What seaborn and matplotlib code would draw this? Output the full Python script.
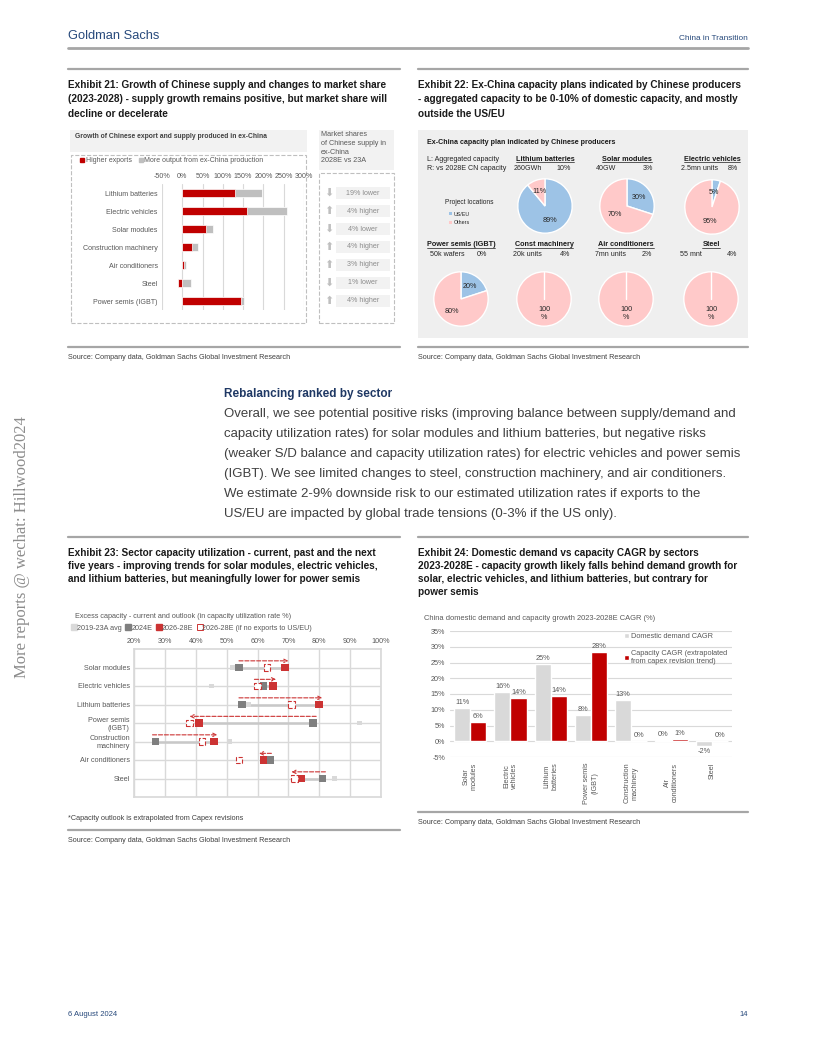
import numpy as np
import pandas as pd
import seaborn as sns
import matplotlib.pyplot as plt
from matplotlib import font_manager as fm
from matplotlib.lines import Line2D
from matplotlib.patches import Rectangle, Patch

#%% data
# Exhibit 21 - growth of Chinese supply (%), stacked
sectors21 = ['Lithium batteries', 'Electric vehicles', 'Solar modules', 'Construction machinery',
             'Air conditioners', 'Steel', 'Power semis (IGBT)']
higher_exports = [130, 160, 59, 24, 4, -10, 144]
ex_china_output = [67, 99, 16, 14, 6, 22, 9]
share_change = ['19% lower', '4% higher', '4% lower', '4% higher', '3% higher', '1% lower', '4% higher']
growth_ticks = [-50, 0, 50, 100, 150, 200, 250, 300]

# Exhibit 22 - ex-China capacity plans
pie_names = ['Lithium batteries', 'Solar modules', 'Electric vehicles', 'Power semis (IGBT)',
             'Const machinery', 'Air conditioners', 'Steel']
pie_capacity = ['260GWh', '40GW', '2.5mn units', '50k wafers', '20k units', '7mn units', '55 mnt']
pie_vs_cn = ['10%', '3%', '8%', '0%', '4%', '2%', '4%']
us_eu_share = [89, 30, 5, 20, 0, 0, 0]

# Exhibit 23 - capacity utilization (%)
sectors23 = ['Solar modules', 'Electric vehicles', 'Lithium batteries', 'Power semis\n(IGBT)',
             'Construction\nmachinery', 'Air conditioners', 'Steel']
util_avg = [52, 45, 57, 93, 51, 63, 85]
util_2024 = [54, 62, 55, 78, 27, 64, 81]
util_2628 = [69, 65, 80, 41, 46, 62, 74]
util_noexp = [63, 60, 71, 38, 42, 54, 72]
arrow_from = [54, 59, 54, 79, 26, 64.5, 82]
arrow_to = [70, 66, 81, 38, 47, 60.5, 71]
util_ticks = [20, 30, 40, 50, 60, 70, 80, 90, 100]

# Exhibit 24 - CAGR 2023-2028E (%)
sectors24 = ['Solar\nmodules', 'Electric\nvehicles', 'Lithium\nbatteries', 'Power semis\n(IGBT)',
             'Construction\nmachinery', 'Air\nconditioners', 'Steel']
demand_cagr = [10.6, 15.7, 24.6, 8.3, 13.1, 0.3, -1.6]
capacity_cagr = [6.0, 13.7, 14.3, 28.4, 0.0, 0.7, 0.0]
cagr_ticks = [-5, 0, 5, 10, 15, 20, 25, 30, 35]

#%% style
sns.set_theme(style='white')
plt.rcParams['font.family'] = ['Liberation Sans', 'DejaVu Sans']


def has_font(name):
    try:
        fm.findfont(fm.FontProperties(family=name), fallback_to_default=False)
        return True
    except Exception:
        return False


if has_font('Liberation Sans Narrow'):
    NARROW, NS = ['Liberation Sans Narrow', 'DejaVu Sans'], 1.0
else:
    NARROW, NS = ['Liberation Sans', 'DejaVu Sans'], 0.88

RED = '#c00000'
RED23 = '#cc3333'
GREY = '#bfbfbf'
LIGHT = '#d9d9d9'
BLUE = '#9dc3e6'
PINK = '#ffc9c9'
NAVY = '#284a7c'
TXT = '#595959'
RULE = '#a6a6a6'

W, H = 816, 1056
fig = plt.figure(figsize=(W / 100, H / 100), dpi=100)


def fxy(x, y):
    return x / W, 1 - y / H


def box(x0, y0, x1, y1):
    return [x0 / W, 1 - y1 / H, (x1 - x0) / W, (y1 - y0) / H]


def put(x, y, s, **kw):
    kw.setdefault('va', 'center')
    return fig.text(x / W, 1 - y / H, s, **kw)


def hline(x0, x1, y, color=RULE, lw=1.6):
    fig.add_artist(Line2D([x0 / W, x1 / W], [1 - y / H] * 2, color=color, lw=lw))


def rect(x0, y0, x1, y1, **kw):
    kw.setdefault('zorder', -1)
    fig.add_artist(Rectangle((x0 / W, 1 - y1 / H), (x1 - x0) / W, (y1 - y0) / H,
                             transform=fig.transFigure, **kw))


#%% page furniture
put(68, 36, 'Goldman Sachs', family=NARROW, fontsize=10.5 * NS, color=NAVY)
put(748, 38, 'China in Transition', family=NARROW, fontsize=6.8 * NS, color=NAVY, ha='right')
hline(68, 748, 48, lw=2)
put(68, 1015, '6 August 2024', family=NARROW, fontsize=6.2 * NS, color=NAVY)
put(748, 1015, '14', family=NARROW, fontsize=6.2 * NS, color=NAVY, ha='right')
put(22, 547, 'More reports @ wechat: Hillwood2024', family=['Liberation Serif', 'DejaVu Serif'],
    fontsize=12, color='#8c8c8c', rotation=90, ha='center')

title_kw = dict(family=NARROW, fontsize=8.2 * NS, fontweight='bold', color='#1a1a1a')
src_kw = dict(family=NARROW, fontsize=5.9 * NS, color='#404040')
SRC = 'Source: Company data, Goldman Sachs Global Investment Research'

hline(68, 400, 69)
hline(418, 748, 69)
for yy, line in zip([85, 99, 114], ['Exhibit 21: Growth of Chinese supply and changes to market share',
                                    '(2023-2028) - supply growth remains positive, but market share will',
                                    'decline or decelerate']):
    put(68, yy, line, **title_kw)
for yy, line in zip([85, 99, 114], ['Exhibit 22: Ex-China capacity plans indicated by Chinese producers',
                                    '- aggregated capacity to be 0-10% of domestic capacity, and mostly',
                                    'outside the US/EU']):
    put(418, yy, line, **title_kw)
hline(68, 400, 347)
hline(418, 748, 347)
put(68, 357, SRC, **src_kw)
put(418, 357, SRC, **src_kw)

put(224, 394, 'Rebalancing ranked by sector', family=NARROW, fontsize=9.6 * NS,
    fontweight='bold', color='#1f3864')
para = ['Overall, we see potential positive risks (improving balance between supply/demand and',
        'capacity utilization rates) for solar modules and lithium batteries, but negative risks',
        '(weaker S/D balance and capacity utilization rates) for electric vehicles and power semis',
        '(IGBT). We see limited changes to steel, construction machinery, and air conditioners.',
        'We estimate 2-9% downside risk to our estimated utilization rates if exports to the',
        'US/EU are impacted by global trade tensions (0-3% if the US only).']
for k, line in enumerate(para):
    put(224, 414 + 20 * k, line, fontsize=9.5, color='#404040')

hline(68, 400, 537)
hline(418, 748, 537)
for yy, line in zip([553, 566, 579], ['Exhibit 23: Sector capacity utilization - current, past and the next',
                                      'five years - improving trends for solar modules, electric vehicles,',
                                      'and lithium batteries, but meaningfully lower for power semis']):
    put(68, yy, line, **title_kw)
for yy, line in zip([553, 566, 579, 592], ['Exhibit 24: Domestic demand vs capacity CAGR by sectors',
                                           '2023-2028E - capacity growth likely falls behind demand growth for',
                                           'solar, electric vehicles, and lithium batteries, but contrary for',
                                           'power semis']):
    put(418, yy, line, **title_kw)
put(68, 818, '*Capacity outlook is extrapolated from Capex revisions', **src_kw)
hline(68, 400, 830)
put(68, 841, SRC, **src_kw)
hline(418, 748, 812)
put(418, 823, SRC, **src_kw)

#%% Exhibit 21
rect(70, 130, 307, 152, facecolor='#f2f2f2', edgecolor='none')
put(75, 137, 'Growth of Chinese export and supply produced in ex-China', fontsize=4.9,
    fontweight='bold', color='#404040')
rect(319, 130, 394, 170, facecolor='#f2f2f2', edgecolor='none')
for yy, line in zip([135, 143.5, 152, 160.5], ['Market shares', 'of Chinese supply in', 'ex-China',
                                                '2028E vs 23A']):
    put(321, yy, line, fontsize=5.2, color=TXT)
rect(71, 155, 306, 323, fill=False, edgecolor=GREY, linestyle='--', lw=0.8)
rect(319, 173, 394, 323, fill=False, edgecolor=GREY, linestyle='--', lw=0.8)

df21 = pd.DataFrame({'sector': sectors21, 'exports': higher_exports, 'exchina': ex_china_output})
df21['total'] = df21['exports'].clip(lower=0) + df21['exchina']
ax21 = fig.add_axes(box(162, 184, 304, 310))
sns.barplot(data=df21, y='sector', x='total', color=GREY, saturation=1, width=0.45,
            edgecolor='white', linewidth=0.5, ax=ax21)
sns.barplot(data=df21, y='sector', x='exports', color=RED, saturation=1, width=0.45,
            edgecolor='white', linewidth=0.5, ax=ax21)
ax21.set_xlim(-50, 300)
ax21.set_xticks(growth_ticks)
ax21.set_xticklabels([f'{v}%' for v in growth_ticks])
ax21.xaxis.tick_top()
ax21.grid(axis='x', color=LIGHT, lw=0.8)
ax21.set_axisbelow(True)
ax21.set_xlabel('')
ax21.set_ylabel('')
sns.despine(ax=ax21, left=True, bottom=True)
ax21.tick_params(length=0, labelsize=5.1, labelcolor=TXT, pad=3)
fig.legend(handles=[Patch(color=RED, label='Higher exports'),
                    Patch(color=GREY, label='More output from ex-China production')],
           loc='center left', bbox_to_anchor=fxy(80, 161), ncol=2, fontsize=5, frameon=False,
           handlelength=0.6, handleheight=0.6, handletextpad=0.2, columnspacing=1.0,
           borderpad=0, borderaxespad=0, labelcolor=TXT)

ax21b = fig.add_axes(box(322, 184, 392, 310))
ax21b.set_xlim(0, 1)
ax21b.set_ylim(ax21.get_ylim())
ax21b.axis('off')
for i, lab in enumerate(share_change):
    ax21b.add_patch(Rectangle((0.2, i - 0.36), 0.77, 0.72, facecolor='#f2f2f2', edgecolor='none'))
    ax21b.text(0.585, i, lab, ha='center', va='center', fontsize=5.1, color='#8c8c8c')
    ax21b.text(0.1, i, '\u2b07' if 'lower' in lab else '\u2b06', ha='center', va='center',
               fontsize=8, color=GREY, family='DejaVu Sans')

#%% Exhibit 22
rect(418, 130, 748, 338, facecolor='#efefef', edgecolor='none')
put(427, 143, 'Ex-China capacity plan indicated by Chinese producers', fontsize=5.1,
    fontweight='bold', color='#1a1a1a')
put(427, 159, 'L: Aggregated capacity', fontsize=5.1, color='#262626')
put(427, 168, 'R: vs 2028E CN capacity', fontsize=5.1, color='#262626')
put(445, 203, 'Project locations', fontsize=4.8, color='#262626')
rect(449, 212, 452, 215, facecolor=BLUE, edgecolor='none', zorder=1)
put(454, 214, 'US/EU', fontsize=3.9, color='#262626')
rect(449, 221, 452, 224, facecolor=PINK, edgecolor='none', zorder=1)
put(454, 223, 'Others', fontsize=3.9, color='#262626')

pie_centers = [(545, 206), (627, 206), (712, 207), (461, 299), (544, 299), (626, 299), (711, 299)]
pie_heads = []
for k, (cx, cy) in enumerate(pie_centers):
    hy = 159 if k < 3 else 245
    t = put(cx, hy, pie_names[k], fontsize=5.2, fontweight='bold', color='#1a1a1a', ha='center')
    pie_heads.append(t)
    put(cx - 31, hy + 9, pie_capacity[k], fontsize=5.1, color='#262626')
    put(cx + 26, hy + 9, pie_vs_cn[k], fontsize=5.1, color='#262626', ha='right')
    r = 34
    axp = fig.add_axes(box(cx - r, cy - r, cx + r, cy + r))
    u = us_eu_share[k]
    labels = [f'{u}%' if u else '', f'{100 - u}%' if u else '100\n%']
    _, texts = axp.pie([u, 100 - u], colors=[BLUE, PINK], startangle=90, counterclock=False,
                       labels=labels, labeldistance=0.55,
                       wedgeprops=dict(edgecolor='white', linewidth=1.0),
                       textprops=dict(fontsize=5.2, color='#262626'))
    for tx in texts:
        tx.set_ha('center')
        tx.set_va('center')
    if u == 0:
        # boundary of the empty US/EU slice
        axp.plot([0, 0], [0, 1], color='white', lw=1.0)

#%% Exhibit 23
put(75, 617, 'Excess capacity - current and outlook (in capacity utilization rate %)', fontsize=5.2,
    color=TXT)
ax23 = fig.add_axes(box(134, 649, 381, 797))
rows = np.arange(len(sectors23))
for i in rows:
    ax23.plot([util_2024[i], util_2628[i]], [i, i], color='#c8c8c8', lw=1.8, zorder=2)
sns.scatterplot(x=util_avg, y=rows, marker='s', s=12, color=LIGHT, edgecolor='none',
                legend=False, ax=ax23, zorder=3)
sns.scatterplot(x=util_2024, y=rows, marker='s', s=30, color='#7f7f7f', edgecolor='none',
                legend=False, ax=ax23, zorder=4)
sns.scatterplot(x=util_2628, y=rows, marker='s', s=30, color=RED23, edgecolor='none',
                legend=False, ax=ax23, zorder=5)
sns.scatterplot(x=util_noexp, y=rows, marker='s', s=22, facecolor='white', edgecolor=RED23,
                linewidth=0.8, linestyle='--', legend=False, ax=ax23, zorder=5)
for i in rows:
    ax23.annotate('', xy=(arrow_to[i], i - 0.36), xytext=(arrow_from[i], i - 0.36),
                  arrowprops=dict(arrowstyle='->', color=RED23, lw=0.8, linestyle='--',
                                  shrinkA=0, shrinkB=0, mutation_scale=6), zorder=6)
ax23.set_xlim(20, 100)
ax23.set_ylim(7, -1)
ax23.set_xticks(util_ticks)
ax23.set_xticklabels([f'{v}%' for v in util_ticks])
ax23.set_yticks(rows)
ax23.set_yticklabels(sectors23)
ax23.xaxis.tick_top()
ax23.grid(True, color=LIGHT, lw=1.0)
ax23.set_axisbelow(True)
for sp in ax23.spines.values():
    sp.set_color(LIGHT)
ax23.tick_params(length=0, labelsize=5.2, labelcolor=TXT, pad=3)
ax23.set_xlabel('')
ax23.set_ylabel('')
fig.legend(handles=[Line2D([], [], ls='', marker='s', color=LIGHT, markersize=4, label='2019-23A avg'),
                    Line2D([], [], ls='', marker='s', color='#7f7f7f', markersize=4, label='2024E'),
                    Line2D([], [], ls='', marker='s', color=RED23, markersize=4, label='2026-28E'),
                    Line2D([], [], ls='', marker='s', markerfacecolor='white', markeredgecolor=RED23,
                           markeredgewidth=0.7, markersize=4,
                           label='2026-28E (if no exports to US/EU)')],
           loc='center left', bbox_to_anchor=fxy(72, 628), ncol=4, fontsize=5.2, frameon=False,
           handlelength=0.6, handletextpad=0.1, columnspacing=0.6, borderpad=0, borderaxespad=0,
           labelcolor=TXT)

#%% Exhibit 24
put(424, 619, 'China domestic demand and capacity growth 2023-2028E CAGR (%)', fontsize=5.4, color=TXT)
df24 = pd.DataFrame({'sector': sectors24 * 2,
                     'value': demand_cagr + capacity_cagr,
                     'series': ['Domestic demand CAGR'] * len(sectors24)
                     + ['Capacity CAGR (extrapolated\nfrom capex revision trend)'] * len(sectors24)})
ax24 = fig.add_axes(box(450, 631, 732, 757))
sns.barplot(data=df24, x='sector', y='value', hue='series', palette=[LIGHT, RED], saturation=1,
            width=0.8, ax=ax24)
for cont, vals in zip(ax24.containers, [demand_cagr, capacity_cagr]):
    ax24.bar_label(cont, labels=[f'{v:.0f}%' for v in vals], fontsize=5.3, color=TXT, padding=1.5)
ax24.set_ylim(-5, 35)
ax24.set_yticks(cagr_ticks)
ax24.set_yticklabels([f'{v}%' for v in cagr_ticks])
ax24.grid(axis='y', color=LIGHT, lw=0.8)
ax24.set_axisbelow(True)
sns.despine(ax=ax24, left=True, bottom=True)
ax24.tick_params(length=0, labelsize=5.2, labelcolor=TXT)
ax24.tick_params(axis='x', rotation=90, pad=4)
ax24.set_xlabel('')
ax24.set_ylabel('')
ax24.legend(loc='upper left', bbox_to_anchor=fxy(624, 633), bbox_transform=fig.transFigure,
            frameon=False, fontsize=5.3, handlelength=0.7, handleheight=0.7, handletextpad=0.2,
            labelspacing=1.4, borderpad=0, borderaxespad=0, labelcolor=TXT)

#%% underline pie headings
fig.canvas.draw()
inv = fig.transFigure.inverted()
for t in pie_heads:
    bb = t.get_window_extent()
    (x0, y0), (x1, _) = inv.transform([[bb.x0, bb.y0], [bb.x1, bb.y1]])
    fig.add_artist(Line2D([x0, x1], [y0 + 0.3 / H, y0 + 0.3 / H], color='#1a1a1a', lw=0.5))

fig.savefig('out.png', dpi=100)
